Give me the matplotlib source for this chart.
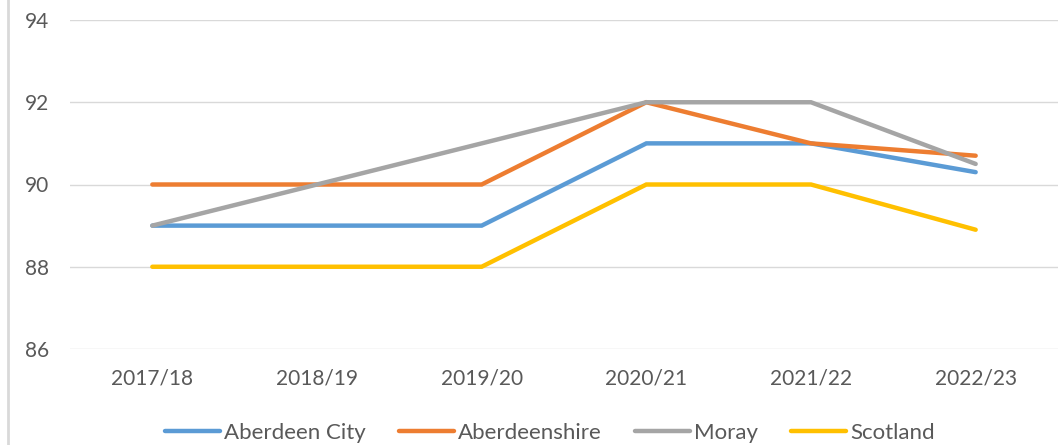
import matplotlib
matplotlib.use("Agg")
import matplotlib.pyplot as plt
from matplotlib.lines import Line2D

years = ["2017/18", "2018/19", "2019/20", "2020/21", "2021/22", "2022/23"]
aberdeen_city = [89, 89, 89, 91, 91, 90.3]
aberdeenshire = [90, 90, 90, 92, 91, 90.7]
moray = [89, 90, 91, 92, 92, 90.5]
scotland = [88, 88, 88, 90, 90, 88.9]

series = [
    ("Aberdeen City", aberdeen_city, "#5B9BD5"),
    ("Aberdeenshire", aberdeenshire, "#ED7D31"),
    ("Moray", moray, "#A5A5A5"),
    ("Scotland", scotland, "#FFC000"),
]

plt.rcParams['font.family'] = ['Lato', 'DejaVu Sans']
W, H = 1064, 445
fig = plt.figure(figsize=(W / 100, H / 100), dpi=100)
ax = fig.add_axes([70 / W, 1 - 349 / H, (1058 - 70) / W, (349 - 20) / H])

x = list(range(len(years)))
for name, vals, col in series:
    ax.plot(x, vals, color=col, lw=3.2, label=name, solid_capstyle='round', solid_joinstyle='miter')

ax.set_xlim(-0.5, len(years) - 0.5)
ax.set_ylim(86, 94)
ax.set_yticks([86, 88, 90, 92, 94])
ax.set_xticks(x)
ax.set_xticklabels(years)
ax.grid(axis='y', color='#D9D9D9', lw=1)
ax.set_axisbelow(True)
for s in ax.spines.values():
    s.set_visible(False)
ax.tick_params(axis='both', length=0, colors='#595959', labelsize=15)
ax.tick_params(axis='x', pad=14)
ax.tick_params(axis='y', pad=15)

fig.legend(loc='center', bbox_to_anchor=(550 / W, 1 - 433 / H), ncol=4, frameon=False,
           fontsize=16, labelcolor='#595959', handlelength=2.45, handletextpad=0.2,
           columnspacing=1.5)

fig.add_artist(Line2D([8 / W, 8 / W], [0, 1], color='#D9D9D9', lw=2, transform=fig.transFigure))

fig.savefig("out.png", dpi=100)
